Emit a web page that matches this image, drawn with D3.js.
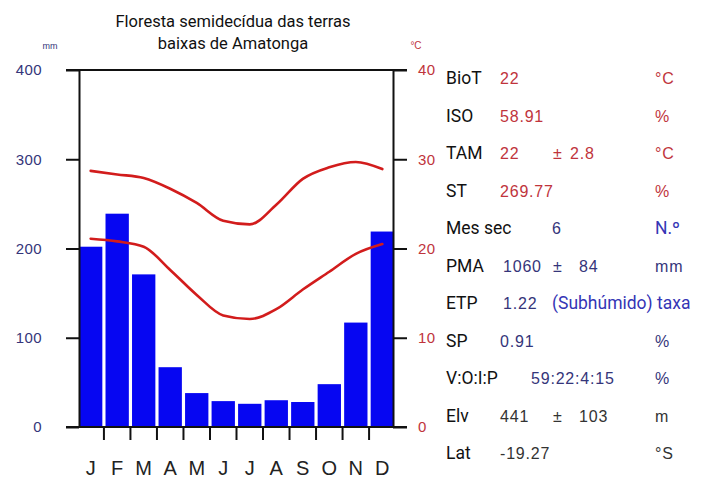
<!DOCTYPE html>
<html>
<head>
<meta charset="utf-8">
<script src="https://cdn.jsdelivr.net/npm/d3@7"></script>
<style>
  body { margin: 0; background: #fff; }
  svg { display: block; }
</style>
</head>
<body>
<svg width="702" height="479"></svg>
<script>
// climate data
const months = ["J", "F", "M", "A", "M", "J", "J", "A", "S", "O", "N", "D"];
const precip = [202, 239, 171, 67, 38, 29, 26, 30, 28, 48, 117, 219];
const tempMax = [28.7, 28.3, 27.9, 26.7, 25.1, 23.1, 22.7, 24.9, 27.8, 29.1, 29.7, 28.9];
const tempMin = [21.1, 20.8, 20.2, 17.6, 14.8, 12.5, 12.1, 13.2, 15.4, 17.4, 19.4, 20.5];
const precipTicks = [0, 100, 200, 300, 400];
const tempTicks = [0, 10, 20, 30, 40];

const titleLines = ["Floresta semidecídua das terras", "baixas de Amatonga"];

// side panel: label, value parts, unit, colour group
const statLabels = ["BioT", "ISO", "TAM", "ST", "Mes sec", "PMA", "ETP", "SP", "V:O:I:P", "Elv", "Lat"];
const statValues = ["22", "58.91", "22", "269.77", "6", "1060", "1.22", "0.91", "59:22:4:15", "441", "-19.27"];
const statSpread = ["", "", "2.8", "", "", "84", "", "", "", "103", ""];
const statUnits = ["°C", "%", "°C", "%", "N.º", "mm", "taxa", "%", "%", "m", "°S"];
const statKind = ["t", "t", "t", "t", "p", "p", "p", "p", "p", "g", "g"];

const sans = "Roboto, 'Noto Sans', sans-serif";
const arial = "'Liberation Sans', Arial, sans-serif";
const red = "#d21c1c";
const navy = "#35357a";
const tRed = "#c0343c";
const blue = "#3535b5";

const svg = d3.select("svg");

const plotLeft = 79, plotRight = 393, plotTop = 70, plotBottom = 427;

const x = d3.scaleBand()
  .domain(d3.range(12))
  .range([plotLeft, 394])
  .paddingInner(0.12)
  .paddingOuter(0);

const yP = d3.scaleLinear().domain([0, 400]).range([plotBottom, plotTop]);
const yT = d3.scaleLinear().domain([0, 40]).range([plotBottom, plotTop]);

// bars
svg.append("g")
  .selectAll("rect")
  .data(precip)
  .join("rect")
  .attr("x", (d, i) => x(i))
  .attr("y", d => yP(d))
  .attr("width", x.bandwidth())
  .attr("height", d => yP(0) - yP(d))
  .attr("fill", "#0606f2");

// temperature lines
const line = d3.line()
  .x((d, i) => x(i) + x.bandwidth() / 2)
  .y(d => yT(d))
  .curve(d3.curveMonotoneX);

[tempMax, tempMin].forEach(series => {
  svg.append("path")
    .datum(series)
    .attr("fill", "none")
    .attr("stroke", red)
    .attr("stroke-width", 2.6)
    .attr("stroke-linejoin", "round")
    .attr("stroke-linecap", "round")
    .attr("d", line);
});

// left axis
const gl = svg.append("g")
  .attr("transform", `translate(${plotLeft},0)`)
  .call(d3.axisLeft(yP).tickValues(precipTicks).tickSize(13).tickSizeOuter(0).tickPadding(24));
gl.selectAll("path, line").attr("stroke", "#111").attr("stroke-width", 2);
gl.selectAll("text").attr("fill", navy).attr("font-family", arial).attr("font-size", 15)
  .attr("letter-spacing", 0.4);

// right axis
const gr = svg.append("g")
  .attr("transform", `translate(${plotRight},0)`)
  .call(d3.axisRight(yT).tickValues(tempTicks).tickSize(14).tickSizeOuter(0).tickPadding(11));
gr.selectAll("path, line").attr("stroke", "#111").attr("stroke-width", 2);
gr.selectAll("text").attr("fill", tRed).attr("font-family", arial).attr("font-size", 15)
  .attr("letter-spacing", 0.4);

// top and bottom rules across the frame
[400, 0].forEach(v => {
  svg.append("line")
    .attr("x1", plotLeft - 13).attr("x2", plotRight + 14)
    .attr("y1", yP(v)).attr("y2", yP(v))
    .attr("stroke", "#111").attr("stroke-width", 2);
});

// month ticks between bars
svg.append("g")
  .selectAll("line")
  .data(d3.range(11))
  .join("line")
  .attr("x1", i => x(i) + x.bandwidth() + (x.step() - x.bandwidth()) / 2)
  .attr("x2", i => x(i) + x.bandwidth() + (x.step() - x.bandwidth()) / 2)
  .attr("y1", plotBottom)
  .attr("y2", plotBottom + 13)
  .attr("stroke", "#111")
  .attr("stroke-width", 2);

svg.append("g")
  .selectAll("text")
  .data(months)
  .join("text")
  .attr("x", (d, i) => x(i) + x.bandwidth() / 2)
  .attr("y", 475)
  .attr("text-anchor", "middle")
  .attr("font-family", arial)
  .attr("font-size", 20)
  .attr("fill", "#222")
  .text(d => d);

// units
svg.append("text").attr("x", 50).attr("y", 49).attr("text-anchor", "middle")
  .attr("font-family", arial).attr("font-size", 9).attr("fill", navy).text("mm");
svg.append("text").attr("x", 416).attr("y", 49).attr("text-anchor", "middle")
  .attr("font-family", arial).attr("font-size", 10).attr("fill", tRed).text("°C");

// title
svg.append("g")
  .selectAll("text")
  .data(titleLines)
  .join("text")
  .attr("x", 233)
  .attr("y", (d, i) => 27 + i * 21.5)
  .attr("text-anchor", "middle")
  .attr("font-family", sans)
  .attr("font-size", 16.5)
  .attr("fill", "#111")
  .text(d => d);

// side panel
const colour = { t: tRed, p: navy, g: "#333" };
const rowY = i => 84 + i * 37.5;
const panel = svg.append("g");

function valueText(px, py, str, c) {
  panel.append("text").attr("x", px).attr("y", py)
    .attr("font-family", arial).attr("font-size", 16).attr("letter-spacing", 0.8)
    .attr("fill", c).text(str);
}

statLabels.forEach((lab, i) => {
  const yy = rowY(i);
  const c = colour[statKind[i]];
  panel.append("text").attr("x", 446).attr("y", yy)
    .attr("font-family", sans).attr("font-size", 17.5).attr("fill", "#111").text(lab);

  let vx = 500;
  if (lab === "Mes sec") vx = 552;
  if (lab === "V:O:I:P") vx = 531;
  if (lab === "ETP" || lab === "PMA") vx = 503;
  valueText(vx, yy, statValues[i], c);

  if (statSpread[i]) {
    valueText(553, yy, "±", c);
    valueText(lab === "TAM" ? 570 : 579, yy, statSpread[i], c);
  }

  const unit = statUnits[i];
  if (unit === "N.º" || unit === "taxa") {
    panel.append("text").attr("x", unit === "taxa" ? 657 : 655).attr("y", yy)
      .attr("font-family", sans).attr("font-size", 17.5).attr("fill", blue).text(unit);
  } else {
    valueText(655, yy, unit, c);
  }
});

// ETP qualifier
panel.append("text").attr("x", 552).attr("y", rowY(6))
  .attr("font-family", sans).attr("font-size", 17.5).attr("fill", blue).text("(Subhúmido)");
</script>
</body>
</html>
